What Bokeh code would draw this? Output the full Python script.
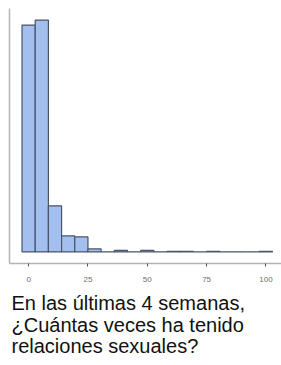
from bokeh.plotting import figure
from bokeh.models import Range1d, FixedTicker, Title
from bokeh.embed import file_html
from bokeh.resources import INLINE

# Histogram: 19 bins, width 100/18, centred on 0 .. 100
bin_left = [-2.78 + i * (100 / 18) for i in range(19)]
counts = [453, 463, 92, 32, 30, 6, 0, 3, 0, 3, 0, 1, 1, 0, 1, 0, 0, 0, 1]
x_ticks = [0, 25, 50, 75, 100]
title_lines = ["En las últimas 4 semanas,", "¿Cuántas veces ha tenido", "relaciones sexuales?"]

bin_w = 100 / 18
bin_right = [b + bin_w for b in bin_left]
xmin, xmax = bin_left[0], bin_right[-1]
xpad = 0.05 * (xmax - xmin)
ymax = max(counts)

p = figure(width=281, height=365, output_backend="svg", toolbar_location=None,
           x_range=Range1d(xmin - xpad, xmax + xpad - 1.5),
           y_range=Range1d(-0.05 * ymax, 1.05 * ymax),
           frame_height=255, frame_width=272,
           min_border_left=9, min_border_right=0, min_border_top=8, min_border_bottom=0)
p.outline_line_color = None
p.grid.visible = False
p.background_fill_color = "white"

p.quad(left=bin_left, right=bin_right, bottom=0, top=counts,
       fill_color="#a3bff0", line_color="#4a5566", line_width=1.2)

xa = p.xaxis[0]
xa.ticker = FixedTicker(ticks=x_ticks)
xa.axis_line_color = "#b3b3b3"
xa.axis_line_width = 1.5
xa.major_tick_line_color = "#555555"
xa.major_tick_out = 3
xa.major_tick_in = 0
xa.minor_tick_line_color = None
xa.major_label_text_font = "Liberation Sans"
xa.major_label_text_font_size = "8px"
xa.major_label_text_color = "#6e6e6e"
xa.major_label_standoff = 10

ya = p.yaxis[0]
ya.ticker = FixedTicker(ticks=[])
ya.axis_line_color = "#b3b3b3"
ya.axis_line_width = 1.5
ya.major_tick_line_color = None
ya.minor_tick_line_color = None
ya.major_label_text_font_size = "0px"

t = Title(text="\n".join(title_lines), align="left", text_font="Liberation Sans",
          text_font_size="20px", text_font_style="normal", text_color="#111111",
          text_line_height=0.98, offset=2, standoff=12)
p.add_layout(t, "below")

open("out.html", "w").write(file_html(p, INLINE))
